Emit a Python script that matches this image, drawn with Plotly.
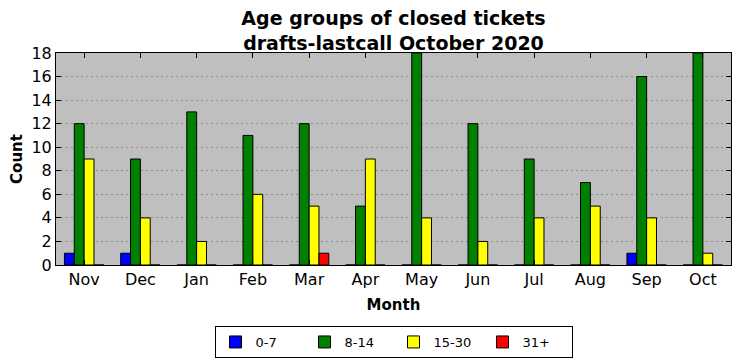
import plotly.graph_objects as go

months = ["Nov", "Dec", "Jan", "Feb", "Mar", "Apr", "May", "Jun", "Jul", "Aug", "Sep", "Oct"]
g0_7 = [1, 1, 0, 0, 0, 0, 0, 0, 0, 0, 1, 0]
g8_14 = [12, 9, 13, 11, 12, 5, 18, 12, 9, 7, 16, 18]
g15_30 = [9, 4, 2, 6, 5, 9, 4, 2, 4, 5, 4, 1]
g31p = [0, 0, 0, 0, 1, 0, 0, 0, 0, 0, 0, 0]
series_names = ["0-7", "8-14", "15-30", "31+"]
series_colors = ["#0000ff", "#008000", "#ffff00", "#ff0000"]

fig = go.Figure()
for name, vals, col in zip(series_names, [g0_7, g8_14, g15_30, g31p], series_colors):
    fig.add_trace(go.Bar(x=months, y=vals, name=name, marker_color=col,
                         marker_line=dict(color="black", width=1)))

W, H = 732, 353  # page body has an 8px margin
font = "DejaVu Sans, sans-serif"
fig.update_layout(
    width=W, height=H,
    barmode="group", bargap=0.3, bargroupgap=0,
    paper_bgcolor="white", plot_bgcolor="#bfbfbf",
    margin=dict(l=48, r=9, t=45, b=96, autoexpand=False),
    font=dict(family=font, size=13, color="black"),
    title=dict(text="<b>Age groups of closed tickets<br>drafts-lastcall October 2020</b>",
               x=0.5, xanchor="center", xref="paper",
               y=1 - 17 / H, yanchor="middle", yref="container",
               font=dict(family=font, size=19)),
    legend=dict(orientation="h", x=0.5, xanchor="center",
                y=1 - 318 / H, yanchor="top", yref="container",
                bordercolor="black", borderwidth=1, font=dict(size=13),
                traceorder="normal", tracegroupgap=0,
                entrywidth=44, entrywidthmode="pixels"),
    showlegend=True,
)
fig.update_xaxes(
    title=dict(text="<b>Month</b>", font=dict(size=15), standoff=11),
    showline=True, linecolor="black", linewidth=1, mirror="ticks",
    ticks="inside", ticklen=5, tickcolor="black",
    tickfont=dict(size=16), showgrid=False,
)
fig.update_yaxes(
    title=dict(text="<b>Count</b>", font=dict(size=15), standoff=10),
    range=[0, 18], dtick=2,
    showline=True, linecolor="black", linewidth=1, mirror="ticks",
    ticks="inside", ticklen=5, tickcolor="black",
    tickfont=dict(size=16),
    showgrid=True, gridcolor="#8c8c8c", griddash="2px,3px", gridwidth=1,
    zeroline=False,
)
fig.write_html("out.html")
